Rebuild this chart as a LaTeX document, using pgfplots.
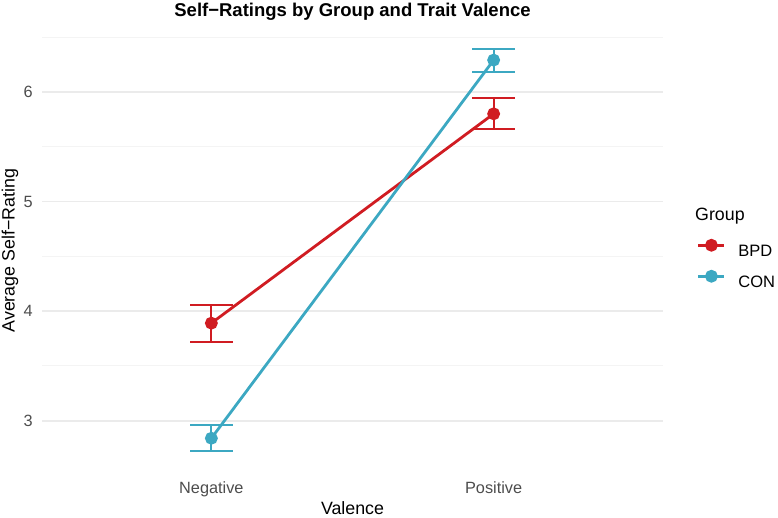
\documentclass[border=0pt]{standalone}
\usepackage{pgfplots}
\pgfplotsset{compat=1.18}
\usepackage{fontspec}
\setmainfont{Liberation Sans}

\definecolor{bpd}{HTML}{D01C22}
\definecolor{con}{HTML}{3CA8C2}
\definecolor{gridmaj}{HTML}{EBEBEB}
\definecolor{gridmin}{HTML}{F4F4F4}
\definecolor{ticktxt}{HTML}{4D4D4D}

\begin{document}
\begin{tikzpicture}
\useasboundingbox (0pt,0pt) rectangle (778pt,517pt);
\begin{axis}[
  at={(42pt,45pt)}, anchor=south west,
  scale only axis, width=621pt, height=442.6pt,
  xmin=-0.6, xmax=1.6, ymin=2.532, ymax=6.570,
  xtick={0,1}, xticklabels={Negative,Positive},
  ytick={3,4,5,6}, minor ytick={3.5,4.5,5.5,6.5},
  ymajorgrids, yminorgrids,
  major grid style={gridmaj, line width=1.7pt},
  minor grid style={gridmin, line width=1.1pt},
  axis line style={draw=none},
  major tick length=0pt, minor tick length=0pt,
  tick label style={font=\fontsize{16.3}{19}\selectfont, text=ticktxt},
  /pgf/number format/assume math mode=true,
  xticklabel style={anchor=base, yshift=-21pt},
  yticklabel style={anchor=east, inner sep=0pt, xshift=-9pt},
  every axis title shift=0pt,
  title={Self−Ratings by Group and Trait Valence},
  title style={font=\bfseries\fontsize{18.5}{22}\selectfont,
    at={(axis description cs:0.5,1.0283)}, anchor=base},
  xlabel={Valence},
  xlabel style={font=\fontsize{17.8}{21}\selectfont,
    at={(axis description cs:0.5,-0.0965)}, anchor=base},
  ylabel={Average Self−Rating},
  ylabel style={font=\fontsize{17.8}{21}\selectfont,
    at={(axis description cs:-0.0441,0.5)}, anchor=base},
  legend style={draw=none, fill=none, inner sep=0pt, outer sep=0pt,
    at={(axis description cs:1.0548,0.5236)}, anchor=north west,
    font=\fontsize{16.5}{19}\selectfont, row sep=14.5pt, column sep=12.5pt,
    nodes={inner sep=0pt, text height=11.5pt, text depth=0pt}},
  legend cell align=left,
  legend image code/.code={\draw[mark repeat=2,mark phase=2,#1]
    plot coordinates {(0pt,5.75pt) (13pt,5.75pt) (26pt,5.75pt)};},
]
% BPD group: mean self-rating with error bars
\addplot[color=bpd, line width=2.8pt, mark=*, mark size=5pt,
  error bars/.cd, y dir=both, y explicit,
  error bar style={line width=2pt, bpd},
  error mark=|, error mark options={mark size=21.2pt, line width=2pt, bpd}]
  coordinates {(0,3.89) +- (0,0.17) (1,5.80) +- (0,0.14)};
\addlegendentry{BPD}
% Control group
\addplot[color=con, line width=2.8pt, mark=*, mark size=5pt,
  error bars/.cd, y dir=both, y explicit,
  error bar style={line width=2pt, con},
  error mark=|, error mark options={mark size=21.2pt, line width=2pt, con}]
  coordinates {(0,2.84) +- (0,0.12) (1,6.29) +- (0,0.105)};
\addlegendentry{CON}
\end{axis}
\node[anchor=base west, inner sep=0pt, font=\fontsize{17.8}{21}\selectfont]
  at (695pt,296pt) {Group};
\end{tikzpicture}
\end{document}
